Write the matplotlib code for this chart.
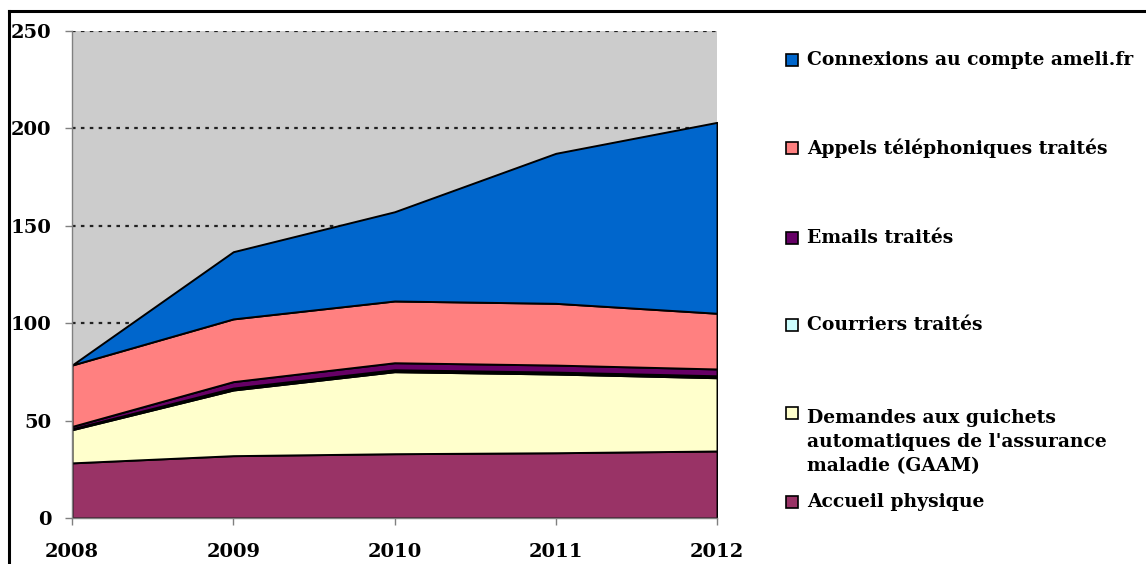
import matplotlib
matplotlib.use("Agg")
import matplotlib.pyplot as plt
from matplotlib.patches import Rectangle
from matplotlib.lines import Line2D

years = [2008, 2009, 2010, 2011, 2012]
accueil = [28.3, 32.0, 33.0, 33.5, 34.4]
gaam = [17.0, 33.7, 42.1, 40.4, 37.6]
courriers = [0.5, 1.0, 1.0, 1.0, 1.0]
emails = [1.2, 3.3, 3.6, 3.6, 3.5]
appels = [31.5, 32.2, 31.7, 31.7, 28.6]
connexions = [0.0, 34.5, 45.8, 77.0, 98.0]

series_labels = [
    "Accueil physique",
    "Demandes aux guichets\nautomatiques de l'assurance\nmaladie (GAAM)",
    "Courriers traités",
    "Emails traités",
    "Appels téléphoniques traités",
    "Connexions au compte ameli.fr",
]
colors = ["#993366", "#FFFFCC", "#CCFFFF", "#660066", "#FF8080", "#0066CC"]
y_ticks = [0, 50, 100, 150, 200, 250]

W, H = 1146, 564
fig = plt.figure(figsize=(W / 100, H / 100), dpi=100)
fig.patch.set_facecolor("white")

ax = fig.add_axes([72 / W, 1 - 518 / H, (717 - 72) / W, (518 - 31) / H])
ax.set_facecolor("#CCCCCC")
ax.stackplot(years, accueil, gaam, courriers, emails, appels, connexions,
             colors=colors, edgecolor="black", linewidth=1.4)
ax.set_xlim(2008, 2012)
ax.set_ylim(0, 250)
ax.set_xticks(years)
ax.set_yticks(y_ticks)
ax.set_axisbelow(True)
ax.yaxis.grid(True, color="#222222", linestyle=(0, (1.6, 2.4)), linewidth=1.6)

fontfam = "DejaVu Serif"
for lab in ax.get_xticklabels() + ax.get_yticklabels():
    lab.set_fontfamily(fontfam)
    lab.set_fontweight("bold")
    lab.set_fontsize(14)
ax.tick_params(axis="y", length=5, width=1, color="#808080", pad=10)
ax.tick_params(axis="x", length=5, width=1, color="#808080", pad=13)
for s in ["top", "right"]:
    ax.spines[s].set_visible(False)
for s in ["left", "bottom"]:
    ax.spines[s].set_color("#808080")
    ax.spines[s].set_linewidth(1)

# Legend (manual, reversed order like the reference)
entries = [
    (5, 60, 60),
    (4, 148, 148),
    (3, 238, 238),
    (2, 325, 325),
    (1, 413, 442),
    (0, 502, 502),
]
for idx, ymark, ytext in entries:
    fig.patches.append(Rectangle((786 / W, 1 - (ymark + 6) / H), 12 / W, 12 / H,
                                 transform=fig.transFigure, facecolor=colors[idx],
                                 edgecolor="black", linewidth=1.2))
    fig.text(807 / W, 1 - ytext / H, series_labels[idx], family=fontfam,
             fontweight="bold", fontsize=13.5, va="center", ha="left",
             linespacing=1.45)

# outer frame
fig.add_artist(Line2D([8.5 / W, 8.5 / W], [1 - 11 / H, 0], transform=fig.transFigure,
                      color="black", linewidth=2.2))
fig.add_artist(Line2D([8.5 / W, 1], [1 - 11 / H, 1 - 11 / H], transform=fig.transFigure,
                      color="black", linewidth=2.2))

fig.savefig("out.png", dpi=100)
